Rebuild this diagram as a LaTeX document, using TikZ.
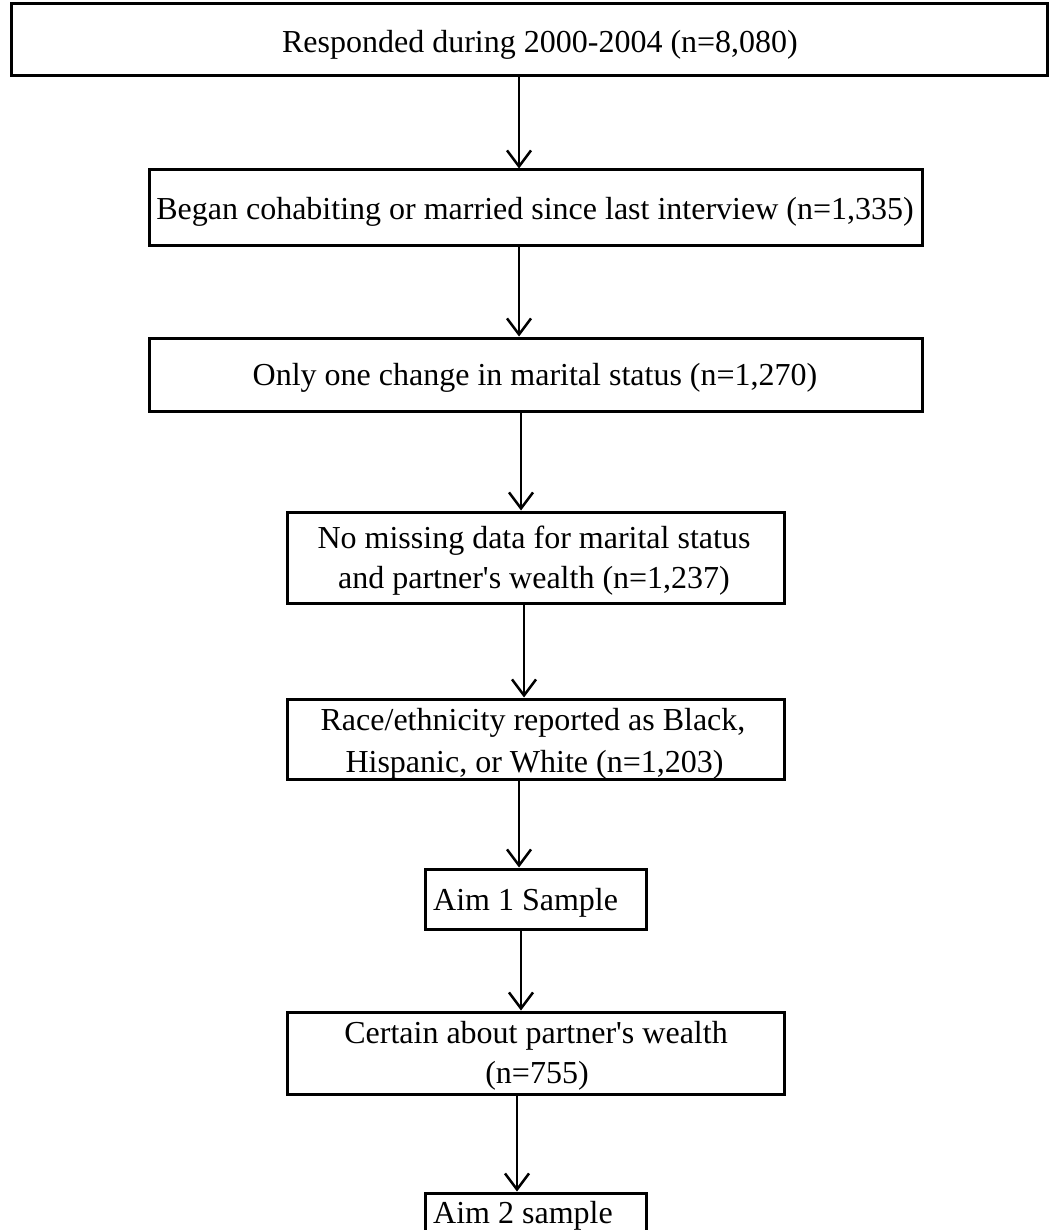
\documentclass[tikz,border=0pt]{standalone}
\usepackage{fontspec}
\setmainfont{Liberation Serif}
\usetikzlibrary{arrows.meta}
\begin{document}
\begin{tikzpicture}[x=1pt,y=-1pt,
  box/.style={draw=black, line width=3pt, rectangle, inner sep=0pt},
  lbl/.style={anchor=base, inner sep=0pt, font=\fontsize{32}{38}\selectfont},
  lbll/.style={anchor=base west, inner sep=0pt, font=\fontsize{32}{38}\selectfont},
  arr/.style={line width=2.5pt, -{Straight Barb[length=16pt,width=24pt,line width=2.5pt]}}]
\useasboundingbox (0,0) rectangle (1049,1230);
\clip (0,0) rectangle (1049,1230);
\fill[white] (0,0) rectangle (1049,1230);
% boxes
\node[box, minimum width=1036pt, minimum height=72pt] (b1) at (529,40) {};
\node[box, minimum width=773pt, minimum height=76pt] (b2) at (535.5,208) {};
\node[box, minimum width=773pt, minimum height=73pt] (b3) at (535.5,374.5) {};
\node[box, minimum width=497pt, minimum height=91pt] (b4) at (535.5,557.5) {};
\node[box, minimum width=497pt, minimum height=80pt] (b5) at (535.5,739) {};
\node[box, minimum width=221pt, minimum height=60pt] (b6) at (535.5,899) {};
\node[box, minimum width=497pt, minimum height=82pt] (b7) at (535.5,1053) {};
\node[box, minimum width=221pt, minimum height=77pt] (b8) at (535.5,1231.5) {};
% texts
\node[lbl] (t1) at (540,53) {Responded during 2000-2004 (n=8,080)};
\node[lbl] (t2) at (535,220) {Began cohabiting or married since last interview (n=1,335)};
\node[lbl] (t3) at (535,385) {Only one change in marital status (n=1,270)};
\node[lbl] (t4a) at (534,548) {No missing data for marital status};
\node[lbl] (t4b) at (534,588) {and partner\textquotesingle s wealth (n=1,237)};
\node[lbl] (t5a) at (533,730) {Race/ethnicity reported as Black,};
\node[lbl] (t5b) at (534.5,772) {Hispanic, or White (n=1,203)};
\node[lbll] (t6) at (433,910) {Aim 1 Sample};
\node[lbl] (t7a) at (536,1043) {Certain about partner\textquotesingle s wealth};
\node[lbl] (t7b) at (537,1083) {(n=755)};
\node[lbll] (t8) at (433,1223) {Aim 2 sample};
% arrows
\draw[arr] (b1.south -| 519,0) -- (b2.north -| 519,0);
\draw[arr] (b2.south -| 519,0) -- (b3.north -| 519,0);
\draw[arr] (b3.south -| 521,0) -- (b4.north -| 521,0);
\draw[arr] (b4.south -| 524,0) -- (b5.north -| 524,0);
\draw[arr] (b5.south -| 519,0) -- (b6.north -| 519,0);
\draw[arr] (b6.south -| 521,0) -- (b7.north -| 521,0);
\draw[arr] (b7.south -| 517,0) -- (b8.north -| 517,0);
\end{tikzpicture}
\end{document}
